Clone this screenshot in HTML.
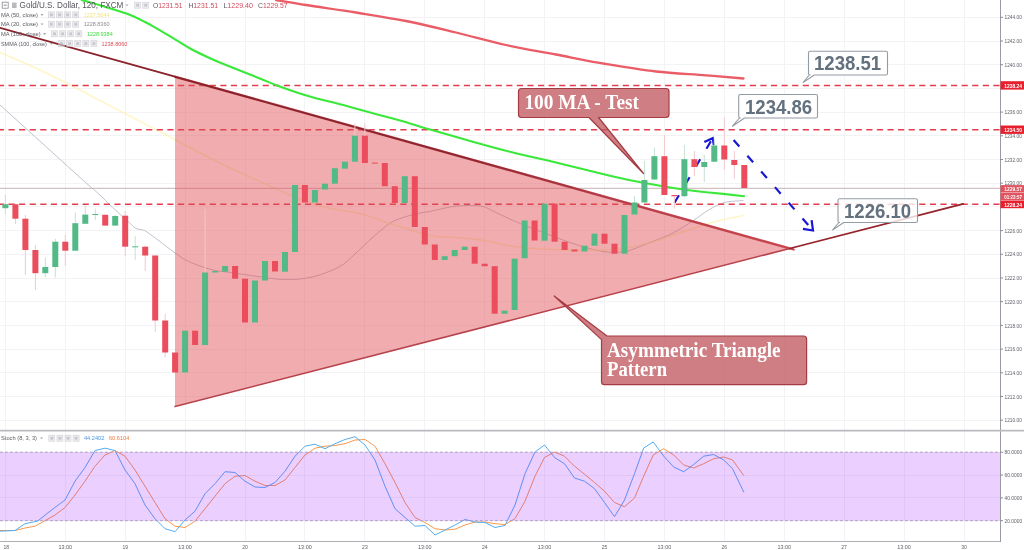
<!DOCTYPE html>
<html lang="en"><head><meta charset="utf-8"><title>Gold/U.S. Dollar chart</title>
<style>html,body{margin:0;padding:0;background:#fff;overflow:hidden}svg{display:block;filter:blur(0.45px)}</style>
</head><body>
<svg width="1024" height="550" viewBox="0 0 1024 550">
<rect width="1024" height="550" fill="#ffffff"/>
<g stroke="#f3f3f6" stroke-width="1" shape-rendering="crispEdges">
<line x1="5.4" y1="0" x2="5.4" y2="541.5"/>
<line x1="65.3" y1="0" x2="65.3" y2="541.5"/>
<line x1="125.2" y1="0" x2="125.2" y2="541.5"/>
<line x1="185.1" y1="0" x2="185.1" y2="541.5"/>
<line x1="245.0" y1="0" x2="245.0" y2="541.5"/>
<line x1="304.9" y1="0" x2="304.9" y2="541.5"/>
<line x1="364.9" y1="0" x2="364.9" y2="541.5"/>
<line x1="424.8" y1="0" x2="424.8" y2="541.5"/>
<line x1="484.7" y1="0" x2="484.7" y2="541.5"/>
<line x1="544.6" y1="0" x2="544.6" y2="541.5"/>
<line x1="604.5" y1="0" x2="604.5" y2="541.5"/>
<line x1="664.4" y1="0" x2="664.4" y2="541.5"/>
<line x1="724.3" y1="0" x2="724.3" y2="541.5"/>
<line x1="784.2" y1="0" x2="784.2" y2="541.5"/>
<line x1="844.1" y1="0" x2="844.1" y2="541.5"/>
<line x1="904.0" y1="0" x2="904.0" y2="541.5"/>
<line x1="964.0" y1="0" x2="964.0" y2="541.5"/>
<line x1="0" y1="17.3" x2="1000.0" y2="17.3"/>
<line x1="0" y1="41.0" x2="1000.0" y2="41.0"/>
<line x1="0" y1="64.7" x2="1000.0" y2="64.7"/>
<line x1="0" y1="88.4" x2="1000.0" y2="88.4"/>
<line x1="0" y1="112.1" x2="1000.0" y2="112.1"/>
<line x1="0" y1="135.8" x2="1000.0" y2="135.8"/>
<line x1="0" y1="159.5" x2="1000.0" y2="159.5"/>
<line x1="0" y1="183.2" x2="1000.0" y2="183.2"/>
<line x1="0" y1="206.9" x2="1000.0" y2="206.9"/>
<line x1="0" y1="230.6" x2="1000.0" y2="230.6"/>
<line x1="0" y1="254.3" x2="1000.0" y2="254.3"/>
<line x1="0" y1="278.0" x2="1000.0" y2="278.0"/>
<line x1="0" y1="301.7" x2="1000.0" y2="301.7"/>
<line x1="0" y1="325.4" x2="1000.0" y2="325.4"/>
<line x1="0" y1="349.1" x2="1000.0" y2="349.1"/>
<line x1="0" y1="372.8" x2="1000.0" y2="372.8"/>
<line x1="0" y1="396.5" x2="1000.0" y2="396.5"/>
<line x1="0" y1="420.2" x2="1000.0" y2="420.2"/>
<line x1="0" y1="452.2" x2="1000.0" y2="452.2"/>
<line x1="0" y1="475.0" x2="1000.0" y2="475.0"/>
<line x1="0" y1="497.9" x2="1000.0" y2="497.9"/>
<line x1="0" y1="520.7" x2="1000.0" y2="520.7"/>
</g>
<path d="M0.0 105.0 C6.7 111.0 26.2 128.7 40.0 141.2 C53.8 153.7 72.8 171.0 82.8 180.0 C92.8 189.0 95.5 190.9 100.0 195.0 C104.5 199.1 106.2 201.4 109.8 204.8 C113.3 208.2 118.2 212.6 121.3 215.5 C124.4 218.4 126.2 219.8 128.7 222.0 C131.1 224.2 133.4 227.0 136.0 228.4 C138.6 229.8 141.5 229.2 144.2 230.4 C146.9 231.7 148.8 233.3 152.4 235.9 C156.0 238.5 161.7 242.9 165.5 245.8 C169.3 248.7 172.0 250.8 175.3 253.1 C178.6 255.4 181.3 257.6 185.1 259.7 C188.9 261.8 193.3 263.6 198.2 265.4 C203.1 267.2 209.3 269.1 214.6 270.3 C219.9 271.5 223.1 271.4 230.0 272.4 C236.9 273.4 246.9 275.0 256.0 276.2 C265.1 277.4 275.3 279.5 284.6 279.6 C293.9 279.7 302.9 279.1 312.0 277.0 C321.1 274.9 331.8 270.8 339.0 267.0 C346.2 263.2 350.1 258.3 355.0 254.0 C359.9 249.7 364.3 245.0 368.5 241.2 C372.7 237.4 375.8 234.3 380.0 231.0 C384.2 227.7 387.9 223.9 393.5 221.2 C399.1 218.4 407.2 216.2 413.5 214.5 C419.8 212.8 423.9 212.6 431.0 211.2 C438.1 209.8 447.7 207.0 456.0 206.2 C464.3 205.4 474.3 205.1 481.0 206.2 C487.7 207.2 490.8 210.2 496.0 212.5 C501.2 214.8 507.1 217.8 512.0 220.0 C516.9 222.2 517.6 222.5 525.4 225.6 C533.1 228.7 548.7 234.7 558.5 238.3 C568.3 241.9 575.9 244.7 584.0 247.0 C592.1 249.3 599.8 251.3 607.0 252.0 C614.2 252.7 620.2 252.4 627.0 251.0 C633.8 249.6 639.9 246.4 647.6 243.4 C655.3 240.4 665.4 236.8 673.0 233.0 C680.6 229.2 687.5 224.3 693.4 220.5 C699.3 216.7 703.5 213.0 708.6 210.0 C713.7 207.0 718.3 204.3 724.0 202.7 C729.7 201.1 739.8 200.9 743.0 200.5" fill="none" stroke="#b9bfca" stroke-width="1" stroke-linecap="round" stroke-opacity="0.95"/>
<path d="M0.0 52.5 C6.7 55.4 26.7 63.8 40.0 70.0 C53.3 76.2 66.7 83.2 80.0 90.0 C93.3 96.8 105.0 103.2 120.0 111.0 C135.0 118.8 153.3 128.3 170.0 137.0 C186.7 145.7 203.3 154.8 220.0 163.0 C236.7 171.2 254.0 179.0 270.0 186.0 C286.0 193.0 300.8 200.4 316.0 205.0 C331.2 209.6 349.3 210.8 361.0 213.7 C372.7 216.6 377.7 219.8 386.0 222.5 C394.3 225.2 403.5 227.8 411.0 230.0 C418.5 232.2 423.5 234.4 431.0 235.7 C438.5 236.9 447.7 236.8 456.0 237.5 C464.3 238.2 471.7 238.6 481.0 240.0 C490.3 241.4 502.2 244.7 512.0 246.2 C521.8 247.7 528.7 248.4 540.0 249.0 C551.3 249.6 566.7 250.0 580.0 250.0 C593.3 250.0 608.0 250.3 620.0 249.0 C632.0 247.7 641.7 244.8 652.0 242.0 C662.3 239.2 672.0 235.2 682.0 232.0 C692.0 228.8 701.8 225.3 712.0 222.5 C722.2 219.7 737.8 216.6 743.0 215.4" fill="none" stroke="#fbf0a2" stroke-width="1.5" stroke-linecap="round" stroke-opacity="0.6"/>
<line x1="0" y1="85.4" x2="1000.0" y2="85.4" stroke="#e23c4e" stroke-width="1.5" stroke-dasharray="6.2,4.39" stroke-dashoffset="2.1"/>
<line x1="0" y1="129.7" x2="1000.0" y2="129.7" stroke="#e23c4e" stroke-width="1.5" stroke-dasharray="6.2,4.39" stroke-dashoffset="2.1"/>
<line x1="0" y1="204.2" x2="1000.0" y2="204.2" stroke="#e23c4e" stroke-width="1.5" stroke-dasharray="6.2,4.39" stroke-dashoffset="2.1"/>
<line x1="0" y1="188.3" x2="1000.0" y2="188.3" stroke="#c6b2b6" stroke-width="1"/>
<polygon points="175.0,76.7 789.7,248.5 175.0,406.5" fill="#e04e56" fill-opacity="0.47"/>
<path d="M81.6 0.0 C84.7 0.9 92.5 3.0 100.0 5.3 C107.5 7.6 118.9 10.8 126.4 13.6 C133.9 16.4 139.4 19.2 145.0 22.0 C150.6 24.8 154.7 27.3 159.7 30.2 C164.7 33.1 169.5 36.0 175.0 39.3 C180.5 42.6 187.1 46.9 192.9 50.0 C198.7 53.1 204.5 55.7 210.0 58.2 C215.5 60.7 217.8 61.7 226.0 65.0 C234.2 68.3 250.7 74.8 259.3 78.2 C267.9 81.7 269.3 82.7 277.6 85.7 C285.9 88.7 298.2 93.1 309.0 96.3 C319.8 99.5 331.3 101.8 342.4 104.8 C353.5 107.8 366.0 111.4 375.6 114.0 C385.2 116.6 390.8 117.9 400.0 120.5 C409.2 123.1 419.3 126.3 431.0 129.7 C442.7 133.1 456.5 137.2 470.0 141.0 C483.5 144.8 496.7 148.5 512.0 152.3 C527.3 156.1 545.3 160.0 562.0 164.0 C578.7 168.0 598.7 173.1 612.0 176.2 C625.3 179.3 629.5 180.2 642.0 182.5 C654.5 184.8 675.3 188.3 687.0 190.0 C698.7 191.7 702.5 191.7 712.0 192.7 C721.5 193.7 738.7 195.6 744.0 196.2" fill="none" stroke="#3ae83a" stroke-width="2.1" stroke-linecap="round" />
<path d="M276.0 0.0 C281.0 0.8 292.7 2.9 306.0 5.0 C319.3 7.1 339.3 9.8 356.0 12.5 C372.7 15.2 389.3 17.7 406.0 21.0 C422.7 24.3 439.3 28.5 456.0 32.5 C472.7 36.5 489.3 41.3 506.0 45.0 C522.7 48.7 539.3 51.3 556.0 54.5 C572.7 57.7 589.3 61.2 606.0 64.0 C622.7 66.8 639.3 69.6 656.0 71.5 C672.7 73.4 691.4 74.1 706.0 75.3 C720.6 76.5 737.2 78.0 743.5 78.5" fill="none" stroke="#ea5c66" stroke-width="2.3" stroke-linecap="round" />
<polyline points="175.0,76.7 789.7,248.5" fill="none" stroke="#dd6670" stroke-width="2.6" stroke-linejoin="round" stroke-opacity="0.6"/>
<line x1="0.0" y1="27.8" x2="175.0" y2="76.7" stroke="#8a222b" stroke-width="1.9" stroke-linecap="round"/>
<linearGradient id="ug" gradientUnits="userSpaceOnUse" x1="175" y1="0" x2="800" y2="0"><stop offset="0" stop-color="#8a2028"/><stop offset="0.45" stop-color="#8e242c"/><stop offset="0.7" stop-color="#b43c46"/><stop offset="1" stop-color="#c8464f"/></linearGradient>
<line x1="175.0" y1="76.7" x2="793.7" y2="249.6" stroke="url(#ug)" stroke-width="2.1" stroke-linecap="round"/>
<line x1="175.0" y1="406.5" x2="789.7" y2="248.5" stroke="#b8424a" stroke-width="1.5" stroke-linecap="round"/>
<line x1="789.7" y1="248.5" x2="963.2" y2="203.9" stroke="#96222a" stroke-width="1.8" stroke-linecap="round"/>
<g stroke="#1818d4" stroke-width="2.2" fill="none" stroke-linecap="butt">
<line x1="674.5" y1="202.7" x2="712.2" y2="139" stroke-dasharray="8.7,12.2"/>
<polyline points="704.3,142 712.7,138.2 713.8,145.2"/>
<line x1="733.6" y1="140" x2="811.5" y2="228.8" stroke-dasharray="8.7,12.2"/>
<polyline points="803,228.8 813,230.5 811.6,220.2"/>
</g>
<line x1="5.4" y1="195.0" x2="5.4" y2="214.0" stroke="#c6e2d3" stroke-width="1"/>
<rect x="2.4" y="204.2" width="6.0" height="4.0" fill="#53b987"/>
<line x1="15.4" y1="204.0" x2="15.4" y2="224.0" stroke="#f1c9ce" stroke-width="1"/>
<rect x="12.4" y="204.2" width="6.0" height="14.5" fill="#eb4d5c"/>
<line x1="25.4" y1="215.0" x2="25.4" y2="275.0" stroke="#f1c9ce" stroke-width="1"/>
<rect x="22.4" y="218.7" width="6.0" height="31.3" fill="#eb4d5c"/>
<line x1="35.4" y1="245.0" x2="35.4" y2="290.0" stroke="#f1c9ce" stroke-width="1"/>
<rect x="32.4" y="250.0" width="6.0" height="23.2" fill="#eb4d5c"/>
<line x1="45.3" y1="257.5" x2="45.3" y2="277.5" stroke="#c6e2d3" stroke-width="1"/>
<rect x="42.3" y="267.0" width="6.0" height="6.2" fill="#53b987"/>
<line x1="55.3" y1="238.7" x2="55.3" y2="277.5" stroke="#c6e2d3" stroke-width="1"/>
<rect x="52.3" y="241.7" width="6.0" height="25.3" fill="#53b987"/>
<line x1="65.3" y1="235.0" x2="65.3" y2="266.0" stroke="#f1c9ce" stroke-width="1"/>
<rect x="62.3" y="241.7" width="6.0" height="9.0" fill="#eb4d5c"/>
<line x1="75.3" y1="212.5" x2="75.3" y2="250.7" stroke="#c6e2d3" stroke-width="1"/>
<rect x="72.3" y="223.2" width="6.0" height="27.5" fill="#53b987"/>
<line x1="85.3" y1="206.0" x2="85.3" y2="223.8" stroke="#c6e2d3" stroke-width="1"/>
<rect x="82.3" y="214.6" width="6.0" height="9.2" fill="#53b987"/>
<line x1="95.3" y1="208.7" x2="95.3" y2="220.0" stroke="#c6e2d3" stroke-width="1"/>
<rect x="92.3" y="214.0" width="6.0" height="1.0" fill="#53b987"/>
<line x1="105.2" y1="214.0" x2="105.2" y2="225.6" stroke="#f1c9ce" stroke-width="1"/>
<rect x="102.2" y="214.8" width="6.0" height="10.8" fill="#eb4d5c"/>
<line x1="115.2" y1="215.0" x2="115.2" y2="226.0" stroke="#c6e2d3" stroke-width="1"/>
<rect x="112.2" y="216.0" width="6.0" height="9.6" fill="#53b987"/>
<line x1="125.2" y1="211.0" x2="125.2" y2="256.0" stroke="#f1c9ce" stroke-width="1"/>
<rect x="122.2" y="215.7" width="6.0" height="31.0" fill="#eb4d5c"/>
<line x1="135.2" y1="236.0" x2="135.2" y2="260.0" stroke="#c6e2d3" stroke-width="1"/>
<rect x="132.2" y="246.3" width="6.0" height="1.0" fill="#53b987"/>
<line x1="145.2" y1="245.5" x2="145.2" y2="271.0" stroke="#f1c9ce" stroke-width="1"/>
<rect x="142.2" y="246.7" width="6.0" height="8.8" fill="#eb4d5c"/>
<line x1="155.2" y1="255.5" x2="155.2" y2="332.0" stroke="#f1c9ce" stroke-width="1"/>
<rect x="152.2" y="255.5" width="6.0" height="65.0" fill="#eb4d5c"/>
<line x1="165.2" y1="313.7" x2="165.2" y2="357.5" stroke="#f1c9ce" stroke-width="1"/>
<rect x="162.2" y="320.5" width="6.0" height="32.0" fill="#eb4d5c"/>
<rect x="172.1" y="352.5" width="6.0" height="20.0" fill="#eb4d5c"/>
<rect x="182.1" y="330.7" width="6.0" height="41.8" fill="#53b987"/>
<rect x="192.1" y="330.7" width="6.0" height="14.3" fill="#eb4d5c"/>
<line x1="205.1" y1="209.0" x2="205.1" y2="345.0" stroke="#f5c6c8" stroke-width="1"/>
<rect x="202.1" y="272.5" width="6.0" height="72.5" fill="#53b987"/>
<rect x="212.1" y="271.0" width="6.0" height="1.5" fill="#53b987"/>
<rect x="222.1" y="266.0" width="6.0" height="5.7" fill="#53b987"/>
<rect x="232.1" y="266.0" width="6.0" height="12.7" fill="#eb4d5c"/>
<rect x="242.0" y="278.7" width="6.0" height="43.8" fill="#eb4d5c"/>
<rect x="252.0" y="280.5" width="6.0" height="42.0" fill="#53b987"/>
<rect x="262.0" y="261.0" width="6.0" height="19.5" fill="#53b987"/>
<rect x="272.0" y="261.0" width="6.0" height="10.5" fill="#eb4d5c"/>
<rect x="282.0" y="252.0" width="6.0" height="19.7" fill="#53b987"/>
<rect x="292.0" y="185.0" width="6.0" height="67.0" fill="#53b987"/>
<rect x="301.9" y="185.0" width="6.0" height="17.5" fill="#eb4d5c"/>
<rect x="311.9" y="190.0" width="6.0" height="12.5" fill="#53b987"/>
<rect x="321.9" y="183.7" width="6.0" height="5.8" fill="#53b987"/>
<rect x="331.9" y="168.2" width="6.0" height="15.5" fill="#53b987"/>
<rect x="341.9" y="161.7" width="6.0" height="7.0" fill="#53b987"/>
<line x1="354.9" y1="123.7" x2="354.9" y2="161.7" stroke="#f5c6c8" stroke-width="1"/>
<rect x="351.9" y="135.7" width="6.0" height="26.0" fill="#53b987"/>
<line x1="364.9" y1="123.7" x2="364.9" y2="163.0" stroke="#f5c6c8" stroke-width="1"/>
<rect x="361.9" y="135.7" width="6.0" height="27.3" fill="#eb4d5c"/>
<rect x="371.8" y="162.6" width="6.0" height="1.0" fill="#eb4d5c"/>
<rect x="381.8" y="163.0" width="6.0" height="23.2" fill="#eb4d5c"/>
<rect x="391.8" y="186.2" width="6.0" height="16.8" fill="#eb4d5c"/>
<rect x="401.8" y="176.2" width="6.0" height="26.8" fill="#53b987"/>
<rect x="411.8" y="176.2" width="6.0" height="50.8" fill="#eb4d5c"/>
<rect x="421.8" y="227.0" width="6.0" height="17.5" fill="#eb4d5c"/>
<rect x="431.8" y="244.5" width="6.0" height="15.5" fill="#eb4d5c"/>
<rect x="441.7" y="256.2" width="6.0" height="3.8" fill="#53b987"/>
<rect x="451.7" y="250.0" width="6.0" height="6.2" fill="#53b987"/>
<rect x="461.7" y="246.7" width="6.0" height="3.3" fill="#53b987"/>
<rect x="471.7" y="246.7" width="6.0" height="17.0" fill="#eb4d5c"/>
<rect x="481.7" y="263.7" width="6.0" height="2.5" fill="#eb4d5c"/>
<rect x="491.7" y="266.2" width="6.0" height="47.5" fill="#eb4d5c"/>
<rect x="501.6" y="310.7" width="6.0" height="3.0" fill="#53b987"/>
<rect x="511.6" y="258.7" width="6.0" height="51.3" fill="#53b987"/>
<rect x="521.6" y="220.5" width="6.0" height="37.7" fill="#53b987"/>
<rect x="531.6" y="220.5" width="6.0" height="20.0" fill="#eb4d5c"/>
<rect x="541.6" y="203.7" width="6.0" height="37.0" fill="#53b987"/>
<rect x="551.6" y="203.7" width="6.0" height="38.0" fill="#eb4d5c"/>
<rect x="561.6" y="241.7" width="6.0" height="8.3" fill="#eb4d5c"/>
<rect x="571.5" y="249.5" width="6.0" height="2.0" fill="#eb4d5c"/>
<rect x="581.5" y="245.7" width="6.0" height="5.8" fill="#53b987"/>
<rect x="591.5" y="233.7" width="6.0" height="12.0" fill="#53b987"/>
<rect x="601.5" y="233.7" width="6.0" height="10.0" fill="#eb4d5c"/>
<rect x="611.5" y="243.7" width="6.0" height="10.0" fill="#eb4d5c"/>
<rect x="621.5" y="215.0" width="6.0" height="38.7" fill="#53b987"/>
<line x1="634.5" y1="196.0" x2="634.5" y2="214.5" stroke="#c6e2d3" stroke-width="1"/>
<rect x="631.5" y="202.5" width="6.0" height="12.0" fill="#53b987"/>
<line x1="644.4" y1="161.0" x2="644.4" y2="202.5" stroke="#c6e2d3" stroke-width="1"/>
<rect x="641.4" y="180.0" width="6.0" height="22.5" fill="#53b987"/>
<line x1="654.4" y1="147.5" x2="654.4" y2="179.5" stroke="#c6e2d3" stroke-width="1"/>
<rect x="651.4" y="156.2" width="6.0" height="23.3" fill="#53b987"/>
<line x1="664.4" y1="135.0" x2="664.4" y2="195.0" stroke="#f1c9ce" stroke-width="1"/>
<rect x="661.4" y="156.2" width="6.0" height="38.8" fill="#eb4d5c"/>
<line x1="674.4" y1="195.0" x2="674.4" y2="208.7" stroke="#f1c9ce" stroke-width="1"/>
<rect x="671.4" y="195.0" width="6.0" height="1.2" fill="#eb4d5c"/>
<line x1="684.4" y1="145.0" x2="684.4" y2="197.5" stroke="#c6e2d3" stroke-width="1"/>
<rect x="681.4" y="159.2" width="6.0" height="37.0" fill="#53b987"/>
<line x1="694.4" y1="151.0" x2="694.4" y2="176.0" stroke="#f1c9ce" stroke-width="1"/>
<rect x="691.4" y="159.2" width="6.0" height="7.8" fill="#eb4d5c"/>
<line x1="704.3" y1="155.0" x2="704.3" y2="182.0" stroke="#c6e2d3" stroke-width="1"/>
<rect x="701.3" y="162.0" width="6.0" height="5.0" fill="#53b987"/>
<line x1="714.3" y1="138.7" x2="714.3" y2="162.0" stroke="#c6e2d3" stroke-width="1"/>
<rect x="711.3" y="145.5" width="6.0" height="16.2" fill="#53b987"/>
<line x1="724.3" y1="117.5" x2="724.3" y2="170.0" stroke="#f1c9ce" stroke-width="1"/>
<rect x="721.3" y="145.5" width="6.0" height="14.0" fill="#eb4d5c"/>
<line x1="734.3" y1="151.0" x2="734.3" y2="178.7" stroke="#f1c9ce" stroke-width="1"/>
<rect x="731.3" y="160.0" width="6.0" height="5.0" fill="#eb4d5c"/>
<line x1="744.3" y1="165.0" x2="744.3" y2="188.0" stroke="#f1c9ce" stroke-width="1"/>
<rect x="741.3" y="165.0" width="6.0" height="23.0" fill="#eb4d5c"/>
<polyline points="0.0,530.5 15.0,530.5 25.0,528.0 35.0,526.2 45.0,520.7 55.0,515.0 65.0,507.5 75.0,495.0 85.0,481.2 95.0,466.2 105.0,455.0 115.0,450.5 125.0,456.2 135.0,470.0 145.0,486.2 155.0,502.5 165.0,518.7 175.0,526.2 185.0,527.5 195.0,521.2 205.0,508.7 215.0,496.2 225.0,483.7 235.0,476.2 245.0,475.5 255.0,481.2 265.0,485.5 275.0,485.5 285.0,480.0 295.0,467.5 305.0,455.0 315.0,448.2 325.0,446.2 335.0,445.5 345.0,443.7 355.0,440.0 365.0,439.5 375.0,446.2 385.0,463.7 395.0,482.5 405.0,502.5 415.0,517.5 425.0,522.5 435.0,528.7 445.0,530.0 455.0,529.2 465.0,525.0 475.0,522.0 485.0,522.0 495.0,523.7 505.0,524.5 515.0,518.7 525.0,501.2 535.0,476.2 544.5,457.5 554.5,452.0 564.5,456.2 574.5,466.2 584.5,474.2 594.5,482.5 604.5,491.2 614.5,502.5 624.5,506.7 634.5,498.0 643.7,476.2 653.2,455.0 663.7,448.7 673.7,455.0 683.7,465.0 693.7,468.0 703.7,463.7 713.7,458.7 723.7,457.0 732.5,460.0 743.7,475.4" fill="none" stroke="#f59a50" stroke-width="1" stroke-linejoin="round" stroke-linecap="round" />
<polyline points="0.0,531.2 15.0,530.5 25.0,523.7 37.5,521.2 50.0,511.2 65.0,500.0 75.0,481.2 85.0,467.5 95.0,450.5 105.0,448.2 115.0,450.5 125.0,470.0 135.0,483.7 145.0,505.0 155.0,518.7 165.0,528.7 175.0,531.7 185.0,520.0 195.0,511.2 205.0,493.7 215.0,483.7 225.0,471.7 235.0,472.5 245.0,481.2 255.0,487.0 265.0,487.5 275.0,482.5 285.0,471.2 295.0,456.2 305.0,446.2 315.0,444.2 325.0,448.7 335.0,443.7 345.0,439.5 355.0,436.7 365.0,445.0 375.0,460.0 385.0,486.2 395.0,508.7 405.0,517.5 415.0,526.2 425.0,525.5 435.0,535.0 445.0,530.0 455.0,525.0 465.0,519.5 475.0,522.0 485.0,522.5 495.0,527.5 505.0,525.5 515.0,505.0 525.0,473.7 535.0,452.0 544.5,445.0 554.5,457.5 564.5,463.7 574.5,478.0 584.5,481.2 594.5,488.7 604.5,502.5 614.5,516.7 624.5,500.0 634.5,473.7 643.7,448.0 653.2,442.0 663.7,456.2 673.7,467.0 683.7,471.7 693.7,464.5 703.7,456.2 713.7,454.5 723.7,460.0 732.5,468.7 743.7,492.0" fill="none" stroke="#55aef0" stroke-width="1" stroke-linejoin="round" stroke-linecap="round" />
<rect x="0" y="452.2" width="1000.0" height="68.5" fill="#9915ff" fill-opacity="0.205"/>
<line x1="0" y1="452.2" x2="1000.0" y2="452.2" stroke="#b09cc4" stroke-width="1" stroke-dasharray="2.8,2.2"/>
<line x1="0" y1="520.7" x2="1000.0" y2="520.7" stroke="#b09cc4" stroke-width="1" stroke-dasharray="2.8,2.2"/>
<rect x="1000.5" y="0" width="24.0" height="550" fill="#ffffff"/>
<line x1="1000.0" y1="0" x2="1000.0" y2="541.5" stroke="#9a9aa3" stroke-width="1" shape-rendering="crispEdges"/>
<rect x="0" y="429.8" width="1024" height="1.7" fill="#b9b9be"/>
<line x1="0" y1="541.5" x2="1000.0" y2="541.5" stroke="#aeaeb5" stroke-width="1" shape-rendering="crispEdges"/>
<line x1="1000.0" y1="17.3" x2="1003.0" y2="17.3" stroke="#8d8d96" stroke-width="1"/>
<text x="1004.5" y="19.4" font-family="'Liberation Sans', sans-serif" font-size="5.8" fill="#62626b" textLength="17.4" lengthAdjust="spacingAndGlyphs" >1244.00</text>
<line x1="1000.0" y1="41.0" x2="1003.0" y2="41.0" stroke="#8d8d96" stroke-width="1"/>
<text x="1004.5" y="43.1" font-family="'Liberation Sans', sans-serif" font-size="5.8" fill="#62626b" textLength="17.4" lengthAdjust="spacingAndGlyphs" >1242.00</text>
<line x1="1000.0" y1="64.7" x2="1003.0" y2="64.7" stroke="#8d8d96" stroke-width="1"/>
<text x="1004.5" y="66.8" font-family="'Liberation Sans', sans-serif" font-size="5.8" fill="#62626b" textLength="17.4" lengthAdjust="spacingAndGlyphs" >1240.00</text>
<line x1="1000.0" y1="88.4" x2="1003.0" y2="88.4" stroke="#8d8d96" stroke-width="1"/>
<line x1="1000.0" y1="112.1" x2="1003.0" y2="112.1" stroke="#8d8d96" stroke-width="1"/>
<text x="1004.5" y="114.2" font-family="'Liberation Sans', sans-serif" font-size="5.8" fill="#62626b" textLength="17.4" lengthAdjust="spacingAndGlyphs" >1236.00</text>
<line x1="1000.0" y1="135.8" x2="1003.0" y2="135.8" stroke="#8d8d96" stroke-width="1"/>
<text x="1004.5" y="137.9" font-family="'Liberation Sans', sans-serif" font-size="5.8" fill="#62626b" textLength="17.4" lengthAdjust="spacingAndGlyphs" >1234.00</text>
<line x1="1000.0" y1="159.5" x2="1003.0" y2="159.5" stroke="#8d8d96" stroke-width="1"/>
<text x="1004.5" y="161.6" font-family="'Liberation Sans', sans-serif" font-size="5.8" fill="#62626b" textLength="17.4" lengthAdjust="spacingAndGlyphs" >1232.00</text>
<line x1="1000.0" y1="183.2" x2="1003.0" y2="183.2" stroke="#8d8d96" stroke-width="1"/>
<text x="1004.5" y="185.3" font-family="'Liberation Sans', sans-serif" font-size="5.8" fill="#62626b" textLength="17.4" lengthAdjust="spacingAndGlyphs" >1230.00</text>
<line x1="1000.0" y1="206.9" x2="1003.0" y2="206.9" stroke="#8d8d96" stroke-width="1"/>
<line x1="1000.0" y1="230.6" x2="1003.0" y2="230.6" stroke="#8d8d96" stroke-width="1"/>
<text x="1004.5" y="232.7" font-family="'Liberation Sans', sans-serif" font-size="5.8" fill="#62626b" textLength="17.4" lengthAdjust="spacingAndGlyphs" >1226.00</text>
<line x1="1000.0" y1="254.3" x2="1003.0" y2="254.3" stroke="#8d8d96" stroke-width="1"/>
<text x="1004.5" y="256.4" font-family="'Liberation Sans', sans-serif" font-size="5.8" fill="#62626b" textLength="17.4" lengthAdjust="spacingAndGlyphs" >1224.00</text>
<line x1="1000.0" y1="278.0" x2="1003.0" y2="278.0" stroke="#8d8d96" stroke-width="1"/>
<text x="1004.5" y="280.1" font-family="'Liberation Sans', sans-serif" font-size="5.8" fill="#62626b" textLength="17.4" lengthAdjust="spacingAndGlyphs" >1222.00</text>
<line x1="1000.0" y1="301.7" x2="1003.0" y2="301.7" stroke="#8d8d96" stroke-width="1"/>
<text x="1004.5" y="303.8" font-family="'Liberation Sans', sans-serif" font-size="5.8" fill="#62626b" textLength="17.4" lengthAdjust="spacingAndGlyphs" >1220.00</text>
<line x1="1000.0" y1="325.4" x2="1003.0" y2="325.4" stroke="#8d8d96" stroke-width="1"/>
<text x="1004.5" y="327.5" font-family="'Liberation Sans', sans-serif" font-size="5.8" fill="#62626b" textLength="17.4" lengthAdjust="spacingAndGlyphs" >1218.00</text>
<line x1="1000.0" y1="349.1" x2="1003.0" y2="349.1" stroke="#8d8d96" stroke-width="1"/>
<text x="1004.5" y="351.2" font-family="'Liberation Sans', sans-serif" font-size="5.8" fill="#62626b" textLength="17.4" lengthAdjust="spacingAndGlyphs" >1216.00</text>
<line x1="1000.0" y1="372.8" x2="1003.0" y2="372.8" stroke="#8d8d96" stroke-width="1"/>
<text x="1004.5" y="374.9" font-family="'Liberation Sans', sans-serif" font-size="5.8" fill="#62626b" textLength="17.4" lengthAdjust="spacingAndGlyphs" >1214.00</text>
<line x1="1000.0" y1="396.5" x2="1003.0" y2="396.5" stroke="#8d8d96" stroke-width="1"/>
<text x="1004.5" y="398.6" font-family="'Liberation Sans', sans-serif" font-size="5.8" fill="#62626b" textLength="17.4" lengthAdjust="spacingAndGlyphs" >1212.00</text>
<line x1="1000.0" y1="420.2" x2="1003.0" y2="420.2" stroke="#8d8d96" stroke-width="1"/>
<text x="1004.5" y="422.3" font-family="'Liberation Sans', sans-serif" font-size="5.8" fill="#62626b" textLength="17.4" lengthAdjust="spacingAndGlyphs" >1210.00</text>
<line x1="1000.0" y1="452.2" x2="1003.0" y2="452.2" stroke="#8d8d96" stroke-width="1"/>
<text x="1004.5" y="454.3" font-family="'Liberation Sans', sans-serif" font-size="5.8" fill="#62626b" textLength="17.6" lengthAdjust="spacingAndGlyphs" >80.0000</text>
<line x1="1000.0" y1="475.0" x2="1003.0" y2="475.0" stroke="#8d8d96" stroke-width="1"/>
<text x="1004.5" y="477.1" font-family="'Liberation Sans', sans-serif" font-size="5.8" fill="#62626b" textLength="17.6" lengthAdjust="spacingAndGlyphs" >60.0000</text>
<line x1="1000.0" y1="497.9" x2="1003.0" y2="497.9" stroke="#8d8d96" stroke-width="1"/>
<text x="1004.5" y="500.0" font-family="'Liberation Sans', sans-serif" font-size="5.8" fill="#62626b" textLength="17.6" lengthAdjust="spacingAndGlyphs" >40.0000</text>
<line x1="1000.0" y1="520.7" x2="1003.0" y2="520.7" stroke="#8d8d96" stroke-width="1"/>
<text x="1004.5" y="522.8" font-family="'Liberation Sans', sans-serif" font-size="5.8" fill="#62626b" textLength="17.6" lengthAdjust="spacingAndGlyphs" >20.0000</text>
<rect x="1000.5" y="81.2" width="24" height="8.4" fill="#e8202e"/>
<text x="1004.2" y="87.5" font-family="'Liberation Sans', sans-serif" font-size="5.9" fill="#ffffff" textLength="17.8" lengthAdjust="spacingAndGlyphs" font-weight="bold" >1238.24</text>
<rect x="1000.5" y="125.5" width="24" height="8.4" fill="#e8202e"/>
<text x="1004.2" y="131.8" font-family="'Liberation Sans', sans-serif" font-size="5.9" fill="#ffffff" textLength="17.8" lengthAdjust="spacingAndGlyphs" font-weight="bold" >1234.50</text>
<rect x="1000.5" y="185.1" width="24" height="7.4" fill="#e1535f"/>
<text x="1004.2" y="190.9" font-family="'Liberation Sans', sans-serif" font-size="5.9" fill="#ffffff" textLength="17.8" lengthAdjust="spacingAndGlyphs" font-weight="bold" >1229.57</text>
<rect x="1000.5" y="192.9" width="24" height="7.4" fill="#e1535f"/>
<text x="1004.2" y="198.7" font-family="'Liberation Sans', sans-serif" font-size="5.9" fill="#ffffff" textLength="17.8" lengthAdjust="spacingAndGlyphs" font-weight="bold" >01:23:57</text>
<rect x="1000.5" y="200.6" width="24" height="7.6" fill="#e8202e"/>
<text x="1004.2" y="206.5" font-family="'Liberation Sans', sans-serif" font-size="5.9" fill="#ffffff" textLength="17.8" lengthAdjust="spacingAndGlyphs" font-weight="bold" >1228.24</text>
<text x="6.2" y="548.8" font-family="'Liberation Sans', sans-serif" font-size="5.8" fill="#62626b" textLength="5.6" lengthAdjust="spacingAndGlyphs" text-anchor="middle" >18</text>
<text x="65.3" y="548.8" font-family="'Liberation Sans', sans-serif" font-size="5.8" fill="#62626b" textLength="13.6" lengthAdjust="spacingAndGlyphs" text-anchor="middle" >13:00</text>
<text x="125.2" y="548.8" font-family="'Liberation Sans', sans-serif" font-size="5.8" fill="#62626b" textLength="5.6" lengthAdjust="spacingAndGlyphs" text-anchor="middle" >19</text>
<text x="185.1" y="548.8" font-family="'Liberation Sans', sans-serif" font-size="5.8" fill="#62626b" textLength="13.6" lengthAdjust="spacingAndGlyphs" text-anchor="middle" >13:00</text>
<text x="245.0" y="548.8" font-family="'Liberation Sans', sans-serif" font-size="5.8" fill="#62626b" textLength="5.6" lengthAdjust="spacingAndGlyphs" text-anchor="middle" >20</text>
<text x="304.9" y="548.8" font-family="'Liberation Sans', sans-serif" font-size="5.8" fill="#62626b" textLength="13.6" lengthAdjust="spacingAndGlyphs" text-anchor="middle" >13:00</text>
<text x="364.9" y="548.8" font-family="'Liberation Sans', sans-serif" font-size="5.8" fill="#62626b" textLength="5.6" lengthAdjust="spacingAndGlyphs" text-anchor="middle" >23</text>
<text x="424.8" y="548.8" font-family="'Liberation Sans', sans-serif" font-size="5.8" fill="#62626b" textLength="13.6" lengthAdjust="spacingAndGlyphs" text-anchor="middle" >13:00</text>
<text x="484.7" y="548.8" font-family="'Liberation Sans', sans-serif" font-size="5.8" fill="#62626b" textLength="5.6" lengthAdjust="spacingAndGlyphs" text-anchor="middle" >24</text>
<text x="544.6" y="548.8" font-family="'Liberation Sans', sans-serif" font-size="5.8" fill="#62626b" textLength="13.6" lengthAdjust="spacingAndGlyphs" text-anchor="middle" >13:00</text>
<text x="604.5" y="548.8" font-family="'Liberation Sans', sans-serif" font-size="5.8" fill="#62626b" textLength="5.6" lengthAdjust="spacingAndGlyphs" text-anchor="middle" >25</text>
<text x="664.4" y="548.8" font-family="'Liberation Sans', sans-serif" font-size="5.8" fill="#62626b" textLength="13.6" lengthAdjust="spacingAndGlyphs" text-anchor="middle" >13:00</text>
<text x="724.3" y="548.8" font-family="'Liberation Sans', sans-serif" font-size="5.8" fill="#62626b" textLength="5.6" lengthAdjust="spacingAndGlyphs" text-anchor="middle" >26</text>
<text x="784.2" y="548.8" font-family="'Liberation Sans', sans-serif" font-size="5.8" fill="#62626b" textLength="13.6" lengthAdjust="spacingAndGlyphs" text-anchor="middle" >13:00</text>
<text x="844.1" y="548.8" font-family="'Liberation Sans', sans-serif" font-size="5.8" fill="#62626b" textLength="5.6" lengthAdjust="spacingAndGlyphs" text-anchor="middle" >27</text>
<text x="904.0" y="548.8" font-family="'Liberation Sans', sans-serif" font-size="5.8" fill="#62626b" textLength="13.6" lengthAdjust="spacingAndGlyphs" text-anchor="middle" >13:00</text>
<text x="964.0" y="548.8" font-family="'Liberation Sans', sans-serif" font-size="5.8" fill="#62626b" textLength="5.6" lengthAdjust="spacingAndGlyphs" text-anchor="middle" >30</text>
<rect x="2.2" y="2.2" width="6" height="6" fill="#ffffff" stroke="#8a8a92" stroke-width="0.8"/><line x1="3.7" y1="5.2" x2="6.7" y2="5.2" stroke="#6a6a72" stroke-width="0.8"/>
<rect x="12" y="2.6" width="4.6" height="5.4" fill="#b8b8be"/>
<text x="19.6" y="8.4" font-family="'Liberation Sans', sans-serif" font-size="8.6" fill="#55555d" textLength="103.8" lengthAdjust="spacingAndGlyphs" >Gold/U.S. Dollar, 120, FXCM</text>
<path d="M125.5 4.5 h3 l-1.5 1.8z" fill="#a4a4ac"/>
<rect x="134.6" y="2.2" width="6.0" height="6.0" fill="#dcdce2" fill-opacity="0.55" stroke="#c4c4cc" stroke-opacity="0.7" stroke-width="0.6"/>
<rect x="136.2" y="3.8" width="2.8" height="2.8" fill="#a9a9b3" fill-opacity="0.55"/>
<rect x="142.7" y="2.2" width="6.0" height="6.0" fill="#dcdce2" fill-opacity="0.55" stroke="#c4c4cc" stroke-opacity="0.7" stroke-width="0.6"/>
<rect x="144.3" y="3.8" width="2.8" height="2.8" fill="#a9a9b3" fill-opacity="0.55"/>
<text x="153.0" y="7.9" font-family="'Liberation Sans', sans-serif" font-size="6.9" textLength="29.6" lengthAdjust="spacingAndGlyphs" fill="#5a5a62">O<tspan fill="#cf4a5c">1231.51</tspan></text>
<text x="188.4" y="7.9" font-family="'Liberation Sans', sans-serif" font-size="6.9" textLength="29.6" lengthAdjust="spacingAndGlyphs" fill="#5a5a62">H<tspan fill="#cf4a5c">1231.51</tspan></text>
<text x="223.4" y="7.9" font-family="'Liberation Sans', sans-serif" font-size="6.9" textLength="29.6" lengthAdjust="spacingAndGlyphs" fill="#5a5a62">L<tspan fill="#cf4a5c">1229.40</tspan></text>
<text x="258.0" y="7.9" font-family="'Liberation Sans', sans-serif" font-size="6.9" textLength="29.6" lengthAdjust="spacingAndGlyphs" fill="#5a5a62">C<tspan fill="#cf4a5c">1229.57</tspan></text>
<text x="1.0" y="16.9" font-family="'Liberation Sans', sans-serif" font-size="6.0" fill="#5a5a62" textLength="37.0" lengthAdjust="spacingAndGlyphs" >MA (50, close)</text>
<path d="M40.5 14.1 h3 l-1.5 1.8z" fill="#a4a4ac"/>
<rect x="48.4" y="11.8" width="6.0" height="6.0" fill="#dcdce2" fill-opacity="0.55" stroke="#c4c4cc" stroke-opacity="0.7" stroke-width="0.6"/>
<rect x="50.0" y="13.4" width="2.8" height="2.8" fill="#a9a9b3" fill-opacity="0.55"/>
<rect x="56.5" y="11.8" width="6.0" height="6.0" fill="#dcdce2" fill-opacity="0.55" stroke="#c4c4cc" stroke-opacity="0.7" stroke-width="0.6"/>
<rect x="58.1" y="13.4" width="2.8" height="2.8" fill="#a9a9b3" fill-opacity="0.55"/>
<rect x="64.6" y="11.8" width="6.0" height="6.0" fill="#dcdce2" fill-opacity="0.55" stroke="#c4c4cc" stroke-opacity="0.7" stroke-width="0.6"/>
<rect x="66.2" y="13.4" width="2.8" height="2.8" fill="#a9a9b3" fill-opacity="0.55"/>
<rect x="72.7" y="11.8" width="6.0" height="6.0" fill="#dcdce2" fill-opacity="0.55" stroke="#c4c4cc" stroke-opacity="0.7" stroke-width="0.6"/>
<rect x="74.3" y="13.4" width="2.8" height="2.8" fill="#a9a9b3" fill-opacity="0.55"/>
<text x="83.7" y="16.9" font-family="'Liberation Sans', sans-serif" font-size="6.0" fill="#f6e480" textLength="25.8" lengthAdjust="spacingAndGlyphs" >1227.5044</text>
<text x="1.0" y="26.3" font-family="'Liberation Sans', sans-serif" font-size="6.0" fill="#5a5a62" textLength="37.0" lengthAdjust="spacingAndGlyphs" >MA (20, close)</text>
<path d="M40.5 23.5 h3 l-1.5 1.8z" fill="#a4a4ac"/>
<rect x="48.4" y="21.2" width="6.0" height="6.0" fill="#dcdce2" fill-opacity="0.55" stroke="#c4c4cc" stroke-opacity="0.7" stroke-width="0.6"/>
<rect x="50.0" y="22.8" width="2.8" height="2.8" fill="#a9a9b3" fill-opacity="0.55"/>
<rect x="56.5" y="21.2" width="6.0" height="6.0" fill="#dcdce2" fill-opacity="0.55" stroke="#c4c4cc" stroke-opacity="0.7" stroke-width="0.6"/>
<rect x="58.1" y="22.8" width="2.8" height="2.8" fill="#a9a9b3" fill-opacity="0.55"/>
<rect x="64.6" y="21.2" width="6.0" height="6.0" fill="#dcdce2" fill-opacity="0.55" stroke="#c4c4cc" stroke-opacity="0.7" stroke-width="0.6"/>
<rect x="66.2" y="22.8" width="2.8" height="2.8" fill="#a9a9b3" fill-opacity="0.55"/>
<rect x="72.7" y="21.2" width="6.0" height="6.0" fill="#dcdce2" fill-opacity="0.55" stroke="#c4c4cc" stroke-opacity="0.7" stroke-width="0.6"/>
<rect x="74.3" y="22.8" width="2.8" height="2.8" fill="#a9a9b3" fill-opacity="0.55"/>
<text x="83.7" y="26.3" font-family="'Liberation Sans', sans-serif" font-size="6.0" fill="#8d8d95" textLength="25.8" lengthAdjust="spacingAndGlyphs" >1228.8360</text>
<text x="1.0" y="35.9" font-family="'Liberation Sans', sans-serif" font-size="6.0" fill="#5a5a62" textLength="39.6" lengthAdjust="spacingAndGlyphs" >MA (100, close)</text>
<path d="M43.2 33.1 h3 l-1.5 1.8z" fill="#a4a4ac"/>
<rect x="51.5" y="30.8" width="6.0" height="6.0" fill="#dcdce2" fill-opacity="0.55" stroke="#c4c4cc" stroke-opacity="0.7" stroke-width="0.6"/>
<rect x="53.1" y="32.4" width="2.8" height="2.8" fill="#a9a9b3" fill-opacity="0.55"/>
<rect x="59.6" y="30.8" width="6.0" height="6.0" fill="#dcdce2" fill-opacity="0.55" stroke="#c4c4cc" stroke-opacity="0.7" stroke-width="0.6"/>
<rect x="61.2" y="32.4" width="2.8" height="2.8" fill="#a9a9b3" fill-opacity="0.55"/>
<rect x="67.7" y="30.8" width="6.0" height="6.0" fill="#dcdce2" fill-opacity="0.55" stroke="#c4c4cc" stroke-opacity="0.7" stroke-width="0.6"/>
<rect x="69.3" y="32.4" width="2.8" height="2.8" fill="#a9a9b3" fill-opacity="0.55"/>
<rect x="75.8" y="30.8" width="6.0" height="6.0" fill="#dcdce2" fill-opacity="0.55" stroke="#c4c4cc" stroke-opacity="0.7" stroke-width="0.6"/>
<rect x="77.4" y="32.4" width="2.8" height="2.8" fill="#a9a9b3" fill-opacity="0.55"/>
<text x="86.9" y="35.9" font-family="'Liberation Sans', sans-serif" font-size="6.0" fill="#3ddc3d" textLength="25.8" lengthAdjust="spacingAndGlyphs" >1228.9384</text>
<text x="1.0" y="45.7" font-family="'Liberation Sans', sans-serif" font-size="6.0" fill="#5a5a62" textLength="45.9" lengthAdjust="spacingAndGlyphs" >SMMA (100, close)</text>
<path d="M50.0 42.9 h3 l-1.5 1.8z" fill="#a4a4ac"/>
<rect x="58.5" y="40.6" width="6.0" height="6.0" fill="#dcdce2" fill-opacity="0.55" stroke="#c4c4cc" stroke-opacity="0.7" stroke-width="0.6"/>
<rect x="60.1" y="42.2" width="2.8" height="2.8" fill="#a9a9b3" fill-opacity="0.55"/>
<rect x="66.6" y="40.6" width="6.0" height="6.0" fill="#dcdce2" fill-opacity="0.55" stroke="#c4c4cc" stroke-opacity="0.7" stroke-width="0.6"/>
<rect x="68.2" y="42.2" width="2.8" height="2.8" fill="#a9a9b3" fill-opacity="0.55"/>
<rect x="74.7" y="40.6" width="6.0" height="6.0" fill="#dcdce2" fill-opacity="0.55" stroke="#c4c4cc" stroke-opacity="0.7" stroke-width="0.6"/>
<rect x="76.3" y="42.2" width="2.8" height="2.8" fill="#a9a9b3" fill-opacity="0.55"/>
<rect x="82.8" y="40.6" width="6.0" height="6.0" fill="#dcdce2" fill-opacity="0.55" stroke="#c4c4cc" stroke-opacity="0.7" stroke-width="0.6"/>
<rect x="84.4" y="42.2" width="2.8" height="2.8" fill="#a9a9b3" fill-opacity="0.55"/>
<rect x="90.9" y="40.6" width="6.0" height="6.0" fill="#dcdce2" fill-opacity="0.55" stroke="#c4c4cc" stroke-opacity="0.7" stroke-width="0.6"/>
<rect x="92.5" y="42.2" width="2.8" height="2.8" fill="#a9a9b3" fill-opacity="0.55"/>
<text x="101.5" y="45.7" font-family="'Liberation Sans', sans-serif" font-size="6.0" fill="#dd4a58" textLength="25.8" lengthAdjust="spacingAndGlyphs" >1238.8060</text>
<text x="1.0" y="440.2" font-family="'Liberation Sans', sans-serif" font-size="6.0" fill="#5a5a62" textLength="36.0" lengthAdjust="spacingAndGlyphs" >Stoch (8, 3, 3)</text>
<path d="M40.0 437.5 h3 l-1.5 1.8z" fill="#a4a4ac"/>
<rect x="48.8" y="435.2" width="6.0" height="6.0" fill="#dcdce2" fill-opacity="0.55" stroke="#c4c4cc" stroke-opacity="0.7" stroke-width="0.6"/>
<rect x="50.4" y="436.8" width="2.8" height="2.8" fill="#a9a9b3" fill-opacity="0.55"/>
<rect x="56.9" y="435.2" width="6.0" height="6.0" fill="#dcdce2" fill-opacity="0.55" stroke="#c4c4cc" stroke-opacity="0.7" stroke-width="0.6"/>
<rect x="58.5" y="436.8" width="2.8" height="2.8" fill="#a9a9b3" fill-opacity="0.55"/>
<rect x="65.0" y="435.2" width="6.0" height="6.0" fill="#dcdce2" fill-opacity="0.55" stroke="#c4c4cc" stroke-opacity="0.7" stroke-width="0.6"/>
<rect x="66.6" y="436.8" width="2.8" height="2.8" fill="#a9a9b3" fill-opacity="0.55"/>
<rect x="73.1" y="435.2" width="6.0" height="6.0" fill="#dcdce2" fill-opacity="0.55" stroke="#c4c4cc" stroke-opacity="0.7" stroke-width="0.6"/>
<rect x="74.7" y="436.8" width="2.8" height="2.8" fill="#a9a9b3" fill-opacity="0.55"/>
<text x="84.0" y="440.2" font-family="'Liberation Sans', sans-serif" font-size="6.0" fill="#4a96e2" textLength="20.3" lengthAdjust="spacingAndGlyphs" >44.2402</text>
<text x="109.0" y="440.2" font-family="'Liberation Sans', sans-serif" font-size="6.0" fill="#f0783e" textLength="20.3" lengthAdjust="spacingAndGlyphs" >60.6104</text>
<path d="M521.5 88.5 H666 Q669 88.5 669 91.5 V114.5 Q669 117.5 666 117.5 H598.6 L643.5 173.5 L589 117.5 H521.5 Q518.5 117.5 518.5 114.5 V91.5 Q518.5 88.5 521.5 88.5 Z" fill="#c25a60" fill-opacity="0.78" stroke="#a53c44" stroke-width="1.2" stroke-linejoin="round"/>
<text x="524.4" y="109.3" font-family="'Liberation Serif', serif" font-size="20.5" fill="#ffffff" textLength="114.6" lengthAdjust="spacingAndGlyphs" font-weight="bold" >100 MA - Test</text>
<path d="M607 336 H803.6 Q806.6 336 806.6 339 V381.7 Q806.6 384.7 803.6 384.7 H604.5 Q601.5 384.7 601.5 381.7 V339.6 L554.2 296 Z" fill="#c25a60" fill-opacity="0.78" stroke="#a53c44" stroke-width="1.2" stroke-linejoin="round"/>
<text x="607.0" y="357.0" font-family="'Liberation Serif', serif" font-size="20" fill="#ffffff" textLength="173.6" lengthAdjust="spacingAndGlyphs" font-weight="bold" >Asymmetric Triangle</text>
<text x="607.0" y="376.1" font-family="'Liberation Serif', serif" font-size="20" fill="#ffffff" textLength="60.0" lengthAdjust="spacingAndGlyphs" font-weight="bold" >Pattern</text>
<path d="M810.1 51.2 H885.9 Q887.5 51.2 887.5 52.8 V73.4 Q887.5 75.0 885.9 75.0 H814.3 L803.0 82.5 L809.3 75.0 H810.1 Q808.5 75.0 808.5 73.4 V52.8 Q808.5 51.2 810.1 51.2 Z" fill="#ffffff" fill-opacity="1.0" stroke="#949ca3" stroke-width="1.1" stroke-linejoin="round"/>
<text x="814.0" y="70.1" font-family="'Liberation Sans', sans-serif" font-size="20.2" fill="#63717e" textLength="67.2" lengthAdjust="spacingAndGlyphs" font-weight="bold" >1238.51</text>
<path d="M740.3 94.5 H815.9 Q817.5 94.5 817.5 96.1 V116.4 Q817.5 118.0 815.9 118.0 H744.5 L732.5 126.2 L739.5 118.0 H740.3 Q738.7 118.0 738.7 116.4 V96.1 Q738.7 94.5 740.3 94.5 Z" fill="#ffffff" fill-opacity="1.0" stroke="#949ca3" stroke-width="1.1" stroke-linejoin="round"/>
<text x="745.0" y="113.9" font-family="'Liberation Sans', sans-serif" font-size="20.2" fill="#63717e" textLength="67.2" lengthAdjust="spacingAndGlyphs" font-weight="bold" >1234.86</text>
<path d="M839.6 198.7 H915.9 Q917.5 198.7 917.5 200.3 V220.9 Q917.5 222.5 915.9 222.5 H843.8 L832.5 230.0 L838.8 222.5 H839.6 Q838.0 222.5 838.0 220.9 V200.3 Q838.0 198.7 839.6 198.7 Z" fill="#ffffff" fill-opacity="0.8" stroke="#949ca3" stroke-width="1.1" stroke-linejoin="round"/>
<text x="844.0" y="218.3" font-family="'Liberation Sans', sans-serif" font-size="20.2" fill="#63717e" textLength="67.2" lengthAdjust="spacingAndGlyphs" font-weight="bold" >1226.10</text>
</svg>
</body></html>
